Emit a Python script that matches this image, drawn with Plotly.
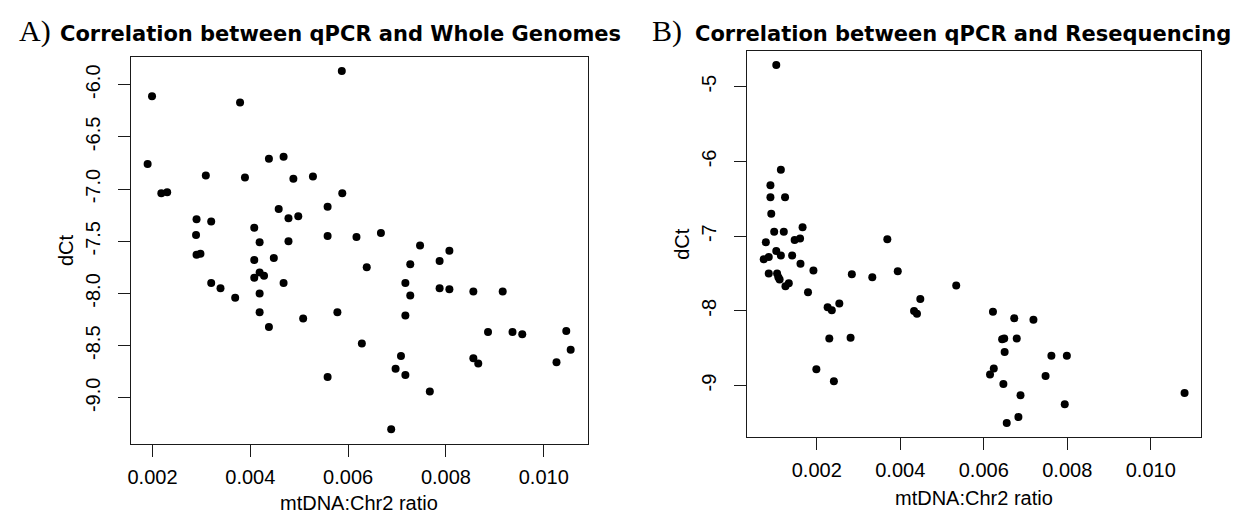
import plotly.graph_objects as go

# ---- Panel A: qPCR vs Whole Genomes ----
wg_ratio = [0.00199, 0.00379, 0.00587, 0.00190, 0.00218, 0.00230, 0.00309, 0.00389, 0.00438, 0.00468,
            0.00488, 0.00528, 0.00588, 0.00290, 0.00320, 0.00289, 0.00408, 0.00458, 0.00478, 0.00498,
            0.00558, 0.00419, 0.00478, 0.00558, 0.00617, 0.00290, 0.00298, 0.00408, 0.00448, 0.00419,
            0.00428, 0.00408, 0.00320, 0.00339, 0.00369, 0.00419, 0.00468, 0.00419, 0.00438, 0.00508,
            0.00578, 0.00558, 0.00628, 0.00747, 0.00807, 0.00638, 0.00727, 0.00787, 0.00717, 0.00727,
            0.00787, 0.00807, 0.00856, 0.00916, 0.00717, 0.00886, 0.00936, 0.00956, 0.01046, 0.01055,
            0.01026, 0.00856, 0.00866, 0.00708, 0.00697, 0.00717, 0.00767, 0.00688, 0.00667]
wg_dct = [-6.11, -6.17, -5.87, -6.76, -7.04, -7.03, -6.87, -6.89, -6.71, -6.69,
          -6.90, -6.88, -7.04, -7.29, -7.31, -7.44, -7.37, -7.19, -7.28, -7.26,
          -7.17, -7.51, -7.50, -7.45, -7.46, -7.63, -7.62, -7.68, -7.66, -7.80,
          -7.83, -7.85, -7.90, -7.95, -8.04, -8.00, -7.90, -8.18, -8.32, -8.24,
          -8.18, -8.80, -8.48, -7.54, -7.59, -7.75, -7.72, -7.69, -7.90, -8.02,
          -7.95, -7.96, -7.98, -7.98, -8.21, -8.37, -8.37, -8.39, -8.36, -8.54,
          -8.66, -8.62, -8.67, -8.60, -8.72, -8.78, -8.94, -9.30, -7.42]

# ---- Panel B: qPCR vs Resequencing ----
rs_ratio = [0.00103, 0.00114, 0.00089, 0.00089, 0.00124, 0.00091, 0.00098, 0.00121, 0.00166, 0.00078,
            0.00147, 0.00160, 0.00369, 0.00103, 0.00114, 0.00073, 0.00085, 0.00141, 0.00161, 0.00192,
            0.00085, 0.00105, 0.00108, 0.00111, 0.00125, 0.00133, 0.00284, 0.00333, 0.00394, 0.00179,
            0.00226, 0.00236, 0.00254, 0.00448, 0.00433, 0.00440, 0.00230, 0.00281, 0.00199, 0.00241,
            0.00534, 0.00622, 0.00673, 0.00719, 0.00644, 0.00649, 0.00679, 0.00650, 0.00762, 0.00799,
            0.00624, 0.00615, 0.00748, 0.00647, 0.00688, 0.00794, 0.01081, 0.00683, 0.00655]
rs_dct = [-4.71, -6.11, -6.32, -6.48, -6.48, -6.70, -6.94, -6.94, -6.88, -7.08,
          -7.05, -7.03, -7.04, -7.20, -7.26, -7.31, -7.28, -7.26, -7.37, -7.46,
          -7.50, -7.50, -7.55, -7.58, -7.67, -7.63, -7.51, -7.55, -7.47, -7.75,
          -7.95, -7.99, -7.90, -7.84, -8.00, -8.04, -8.37, -8.36, -8.78, -8.94,
          -7.66, -8.01, -8.10, -8.12, -8.38, -8.37, -8.37, -8.55, -8.60, -8.60,
          -8.77, -8.85, -8.87, -8.98, -9.13, -9.25, -9.10, -9.42, -9.50]

# ---- Tick labels ----
x_tickvals = [0.002, 0.004, 0.006, 0.008, 0.010]
x_ticktext = ["0.002", "0.004", "0.006", "0.008", "0.010"]
a_ytickvals = [-9.0, -8.5, -8.0, -7.5, -7.0, -6.5, -6.0]
a_yticktext = ["-9.0", "-8.5", "-8.0", "-7.5", "-7.0", "-6.5", "-6.0"]
b_ytickvals = [-9, -8, -7, -6, -5]
b_yticktext = ["-9", "-8", "-7", "-6", "-5"]

title_a = "Correlation between qPCR and Whole Genomes"
title_b = "Correlation between qPCR and Resequencing"
x_title = "mtDNA:Chr2 ratio"
y_title = "dCt"


def rrange(v):
    lo, hi = min(v), max(v)
    pad = 0.04 * (hi - lo)
    return [lo - pad, hi + pad]


W, H = 1240, 513
FONT = "Liberation Sans, Arial, sans-serif"

fig = go.Figure()
fig.add_trace(go.Scatter(x=wg_ratio, y=wg_dct, mode="markers",
                         marker=dict(color="black", size=8, line=dict(width=0)),
                         xaxis="x", yaxis="y", showlegend=False))
fig.add_trace(go.Scatter(x=rs_ratio, y=rs_dct, mode="markers",
                         marker=dict(color="black", size=8, line=dict(width=0)),
                         xaxis="x2", yaxis="y2", showlegend=False))

axis_common = dict(showline=True, linecolor="#1a1a1a", linewidth=1, mirror=True,
                   ticks="outside", ticklen=12, tickwidth=1, tickcolor="#1a1a1a",
                   showgrid=False, zeroline=False,
                   tickfont=dict(family=FONT, size=20, color="black"))

# pixel box positions
A = dict(l=120, r=578, t=48.8, b=435.5)
B = dict(l=737.7, r=1193.3, t=42.7, b=429.3)

fig.update_layout(
    width=W, height=H, margin=dict(l=0, r=0, t=0, b=0),
    paper_bgcolor="white", plot_bgcolor="white",
    xaxis=dict(domain=[A["l"] / W, A["r"] / W], range=rrange(wg_ratio), anchor="y",
               tickvals=x_tickvals, ticktext=x_ticktext, ticklabelstandoff=3, **axis_common),
    yaxis=dict(domain=[1 - A["b"] / H, 1 - A["t"] / H], range=rrange(wg_dct), anchor="x",
               tickvals=a_ytickvals, ticktext=a_yticktext, tickangle=-90, ticklabelstandoff=10,
               **axis_common),
    xaxis2=dict(domain=[B["l"] / W, B["r"] / W], range=rrange(rs_ratio), anchor="y2",
                tickvals=x_tickvals, ticktext=x_ticktext, ticklabelstandoff=3, **axis_common),
    yaxis2=dict(domain=[1 - B["b"] / H, 1 - B["t"] / H], range=rrange(rs_dct), anchor="x2",
                tickvals=b_ytickvals, ticktext=b_yticktext, tickangle=-90, ticklabelstandoff=10,
                **axis_common),
)


def ann(text, xpx, ypx, size, family=FONT, angle=0, bold=False):
    fig.add_annotation(text=f"<b>{text}</b>" if bold else text,
                       x=xpx / W, y=1 - ypx / H, xref="paper", yref="paper",
                       xanchor="center", yanchor="middle", showarrow=False, textangle=angle,
                       font=dict(family=family, size=size, color="black"))


ann("A)", 24, 23, 30, family="Liberation Serif, serif")
ann("B)", 658, 23, 30, family="Liberation Serif, serif")
ann(title_a, 330, 26, 21, family="DejaVu Sans, sans-serif", bold=True)
ann(title_b, 954, 26, 21, family="DejaVu Sans, sans-serif", bold=True)
ann(y_title, 55, (A["t"] + A["b"]) / 2, 20, angle=-90)
ann(y_title, 672.5, (B["t"] + B["b"]) / 2, 20, angle=-90)
ann(x_title, (A["l"] + A["r"]) / 2, 495, 20)
ann(x_title, (B["l"] + B["r"]) / 2, 490, 20)

fig.write_html("out.html")
